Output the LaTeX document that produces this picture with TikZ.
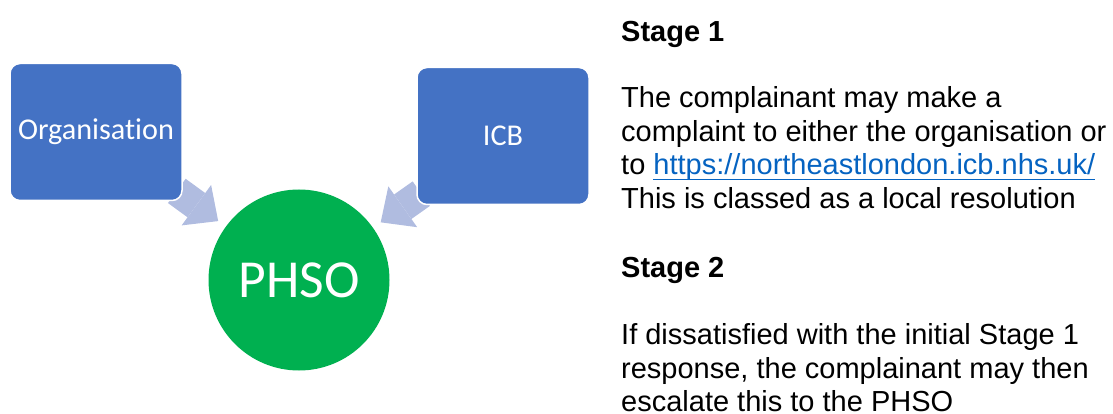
\documentclass[tikz,border=0pt]{standalone}
\usepackage{fontspec}
\setmainfont{Liberation Sans}
\newfontfamily\calibri[Ligatures=NoCommon]{Carlito}
\usetikzlibrary{positioning, arrows.meta}
\usetikzlibrary{backgrounds}

\definecolor{boxblue}{RGB}{68,114,196}
\definecolor{arrowblue}{RGB}{176,188,224}
\definecolor{phsogreen}{RGB}{0,176,80}
\definecolor{linkblue}{RGB}{5,99,193}

\newcommand\linktext[1]{\setbox0\hbox{#1}\rlap{\rule[-5.7pt]{\wd0}{1.3pt}}\box0}

\begin{document}
\begin{tikzpicture}[x=1pt, y=-1pt]


\tikzstyle{box_style} = [rectangle, rounded corners=10pt, draw=white, line width=1.5pt, fill=boxblue, text=white, minimum width=172pt, minimum height=137pt, font=\calibri\fontsize{30.2}{36}\selectfont]

\tikzstyle{circle_style} = [circle, fill=phsogreen, text=white, minimum size=181pt, inner sep=0pt, font=\calibri\fontsize{53.5}{62}\selectfont]

\tikzstyle{arrow_style} = [draw=arrowblue, line width=30pt, -{Triangle[width=50pt, length=27pt, line width=0pt]}, shorten <=100pt, shorten >=100pt]

\tikzstyle{head_style} = [anchor=base west, inner sep=0pt, font=\bfseries\fontsize{29}{33.5}\selectfont]

\tikzstyle{text_style} = [anchor=base west, inner sep=0pt, align=left, font=\fontsize{29}{33.5}\selectfont]


\useasboundingbox (0,0) rectangle (1113,414);

\node[box_style] (org) at (96, 132) {Organisation};
\node[box_style] (icb) at (503, 136) {ICB};
\node[circle_style] (phso) at (299, 280) {PHSO};

% base of a multi-line node is its last line
\node[head_style] (stage1) at (621, 41.7) {Stage 1};
\node[text_style] (text1) at (621, 208.3) {The complainant may make a\\
complaint to either the organisation or\\
to \textcolor{linkblue}{\linktext{https://northeastlondon.icb.nhs.uk/}}\\
This is classed as a local resolution};
\node[head_style] (stage2) at (621, 277.3) {Stage 2};
\node[text_style] (text2) at (621, 411.7) {If dissatisfied with the initial Stage 1\\
response, the complainant may then\\
escalate this to the PHSO};


\begin{scope}[on background layer]
\draw[arrow_style]  (org.center) -- (phso.center);
\draw[arrow_style]  (icb.center) -- (phso.center);
\end{scope}


\end{tikzpicture}
\end{document}
